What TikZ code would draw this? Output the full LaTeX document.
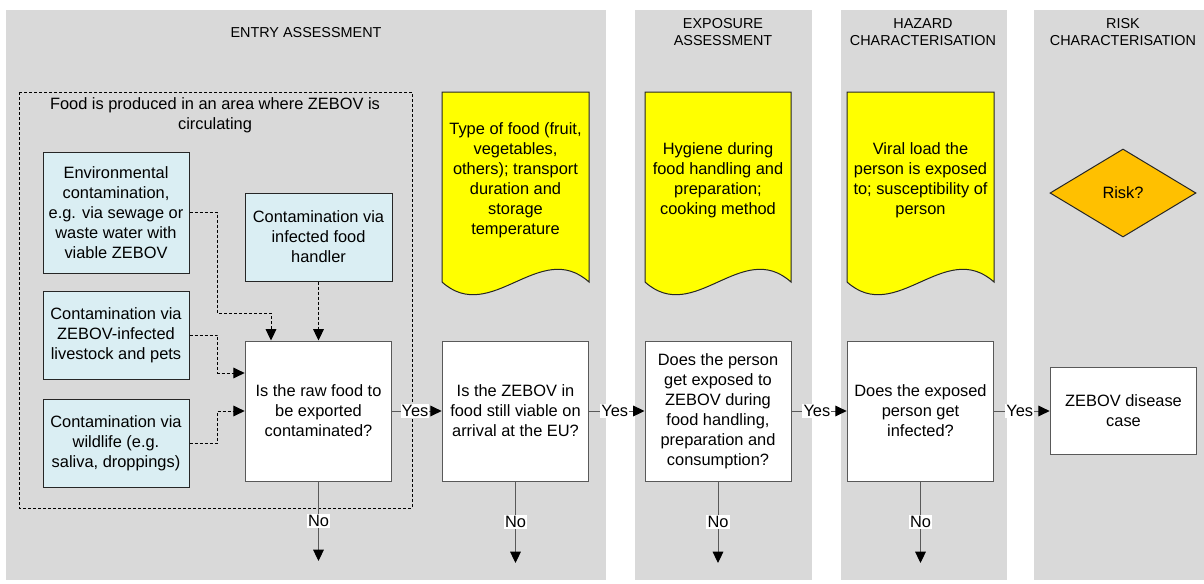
\documentclass[tikz,border=0pt]{standalone}
\usepackage{fontspec}
\setmainfont{Liberation Sans}
\usetikzlibrary{arrows.meta,shapes.geometric,calc}

\definecolor{panelgray}{HTML}{D9D9D9}
\definecolor{srcblue}{HTML}{DAEEF3}
\definecolor{noteyellow}{HTML}{FFFF00}
\definecolor{riskorange}{HTML}{FFC000}
\definecolor{edgegray}{HTML}{595959}

\tikzset{
  panel/.style={fill=panelgray},
  heading/.style={font=\fontsize{10.8pt}{12.75pt}\selectfont,align=center},
  body/.style={font=\fontsize{12.3pt}{15pt}\selectfont,align=center},
  qbox/.style={body,draw=edgegray,line width=0.75pt,fill=white,inner sep=1pt,
    minimum width=110pt,minimum height=105pt},
  srcbox/.style={body,draw=black!85,line width=0.75pt,fill=srcblue,inner sep=1pt,
    minimum width=109.5pt,minimum height=66pt},
  docnote/.style={draw=black!85,line width=0.75pt,fill=noteyellow},
  lbl/.style={body,fill=white,inner sep=0.8pt},
  flow/.style={draw=edgegray,line width=0.75pt,-{Triangle[length=8.5pt,width=8pt,fill=black,color=black]}},
  feed/.style={draw=black,line width=0.75pt,dash pattern=on 2.25pt off 1.5pt,
    -{Triangle[length=8.5pt,width=8pt,fill=black,color=black]}},
}

\begin{document}
\begin{tikzpicture}[x=0.75pt,y=-0.75pt]
\useasboundingbox (0,0) rectangle (1204,583);

% assessment stages
\fill [panel] (6,10) rectangle (606,580);
\fill [panel] (635,10) rectangle (812,580);
\fill [panel] (841,10) rectangle (1007,580);
\fill [panel] (1034,10) rectangle (1204,580);
\node [heading] (entryhead) at (306,33) {ENTRY ASSESSMENT};
\node [heading] (exphead) at (723,32.5) {EXPOSURE\\ASSESSMENT};
\node [heading] (hazhead) at (923,32.5) {HAZARD\\CHARACTERISATION};
\node [heading] (riskhead) at (1123,32.5) {RISK\\CHARACTERISATION};

% production area
\draw [dash pattern=on 2.25pt off 1.5pt,line width=0.6pt] (19,92) rectangle (412,508);
\node [body] (areatitle) at (215,115.5) {Food is produced in an area where ZEBOV is\\circulating};

% contamination sources
\node [srcbox,minimum height=90.75pt] (env) at (116,212.5)
  {Environmental\\contamination,\\e.g. via sewage or\\waste water with\\viable ZEBOV};
\node [srcbox,minimum width=110.25pt] (handler) at (318.5,237)
  {Contamination via\\infected food\\handler};
\node [srcbox] (live) at (116,335) {Contamination via\\ZEBOV-infected\\livestock and pets};
\node [srcbox] (wild) at (116,443) {Contamination via\\wildlife (e.g.\\saliva, droppings)};

% influencing factors
\draw [docnote] (442,282) -- (442,92) -- (589,92) -- (589,282)
  .. controls (540,238) and (491,326) .. (442,282) -- cycle;
\draw [docnote] (645,282) -- (645,92) -- (791,92) -- (791,282)
  .. controls (742,238) and (694,326) .. (645,282) -- cycle;
\draw [docnote] (847,282) -- (847,92) -- (994,92) -- (994,282)
  .. controls (945,238) and (896,326) .. (847,282) -- cycle;
\node [body] (note1) at (515.5,180) {Type of food (fruit,\\vegetables,\\others); transport\\duration and\\storage\\temperature};
\node [body] (note2) at (718,180) {Hygiene during\\food handling and\\preparation;\\cooking method};
\node [body] (note3) at (920.5,180) {Viral load the\\person is exposed\\to; susceptibility of\\person};
\node [body,diamond,draw=black!85,line width=0.75pt,fill=riskorange,inner sep=0pt,
  minimum width=109.5pt,minimum height=66pt] (risk) at (1123,193) {Risk?};

% questions
\node [qbox] (q1) at (318.5,411) {Is the raw food to\\be exported\\contaminated?};
\node [qbox] (q2) at (515.5,411) {Is the ZEBOV in\\food still viable on\\arrival at the EU?};
\node [qbox,minimum width=109.5pt] (q3) at (718,411)
  {Does the person\\get exposed to\\ZEBOV during\\food handling,\\preparation and\\consumption?};
\node [qbox] (q4) at (920.5,411) {Does the exposed\\person get\\infected?};
\node [qbox,minimum height=65.25pt] (case) at (1123.5,411) {ZEBOV disease\\case};

% source links
\coordinate (envin) at (271,313);
\coordinate (livein) at ($(q1.west)+(0,-38)$);
\draw [feed] (env.east) -- ++(28,0) |- (envin) -- (envin |- q1.north);
\draw [feed] (handler.south) -- (q1.north);
\draw [feed] (live.east) -- ++(28,0) |- (livein);
\draw [feed] (wild.east) -- ++(28,0) |- (q1.west);

% yes path
\draw [flow] (q1.east) -- node [lbl,pos=0.46] {Yes} (q2.west);
\draw [flow] (q2.east) -- node [lbl,pos=0.46] {Yes} (q3.west);
\draw [flow] (q3.east) -- node [lbl,pos=0.46] {Yes} (q4.west);
\draw [flow] (q4.east) -- node [lbl,pos=0.46] {Yes} (case.west);

% no exits
\coordinate (no1) at (318.5,561);
\coordinate (no2) at (515.5,563);
\coordinate (no3) at (718,563);
\coordinate (no4) at (920.5,563);
\draw [flow] (q1.south) -- node [lbl] {No} (no1);
\draw [flow] (q2.south) -- node [lbl] {No} (no2);
\draw [flow] (q3.south) -- node [lbl] {No} (no3);
\draw [flow] (q4.south) -- node [lbl] {No} (no4);
\end{tikzpicture}
\end{document}
